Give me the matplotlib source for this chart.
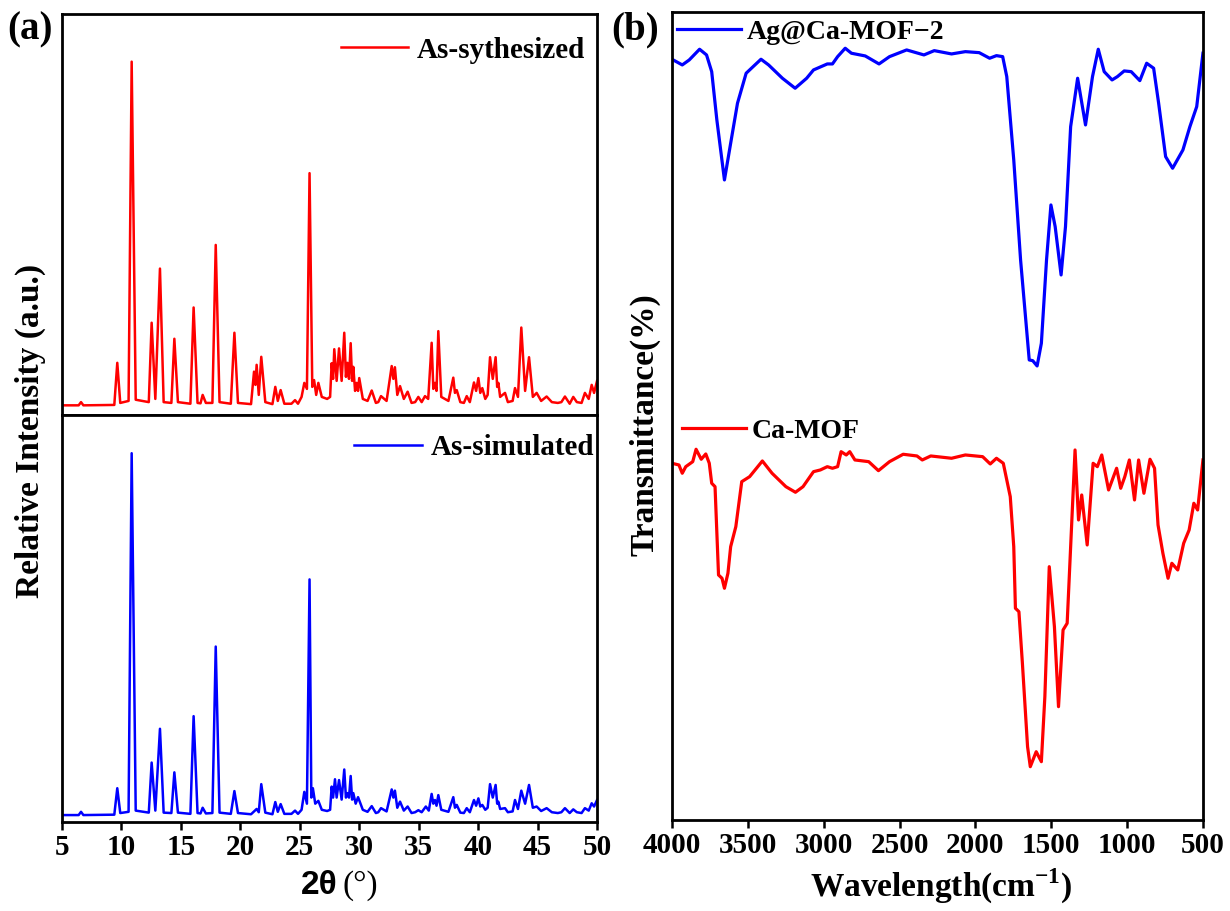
import matplotlib
matplotlib.use("Agg")
import matplotlib.pyplot as plt
from matplotlib.lines import Line2D
import numpy as np

plt.rcParams['font.family'] = ['Liberation Serif', 'DejaVu Serif']
plt.rcParams['font.weight'] = 'bold'
plt.rcParams['mathtext.fontset'] = 'custom'
plt.rcParams['mathtext.rm'] = 'Liberation Serif:bold'
plt.rcParams['mathtext.bf'] = 'Liberation Serif:bold'

# ---- (a) XRD, as-synthesized (peak tops and valleys) ----
syn_peak_pos = [6.6, 9.65, 10.86, 12.54, 13.24, 14.45, 16.07, 16.83, 17.93, 19.5,
                21.15, 21.37, 21.76, 22.94, 23.39, 24.6, 25.38, 25.82, 26.2, 26.56,
                27.68, 27.9, 28.3, 28.74, 29.0, 29.28, 29.5, 29.78, 30.0, 31.05,
                31.83, 32.73, 33.0, 33.43, 34.07, 34.97, 35.53, 36.09, 36.37, 36.65,
                37.91, 38.2, 39.04, 39.65, 40.02, 40.35, 41.0, 41.47, 41.7, 42.26,
                43.1, 43.63, 44.28, 44.92, 45.76, 47.3, 48.0, 48.98, 49.55]
syn_peak_int = [3.2, 13.0, 88.1, 23.0, 36.5, 19.0, 26.8, 5.0, 42.4, 20.5,
                10.8, 12.5, 14.5, 7.0, 6.2, 3.7, 8.0, 60.3, 8.7, 8.0,
                12.9, 16.4, 16.6, 20.5, 13.0, 17.9, 12.0, 8.0, 9.2, 6.1,
                4.7, 12.2, 11.9, 7.2, 5.8, 4.5, 4.7, 18.0, 8.0, 20.9,
                9.3, 6.2, 4.7, 8.1, 9.2, 6.7, 14.4, 14.4, 8.0, 5.5,
                6.7, 21.8, 14.4, 5.5, 4.6, 4.6, 4.5, 5.5, 7.5]
syn_valley_pos = [5.0, 6.4, 6.8, 9.4, 9.9, 10.6, 11.2, 12.3, 12.85, 13.55,
                  14.2, 14.75, 15.8, 16.4, 16.65, 17.1, 17.65, 18.25, 19.2, 19.8,
                  20.9, 21.27, 21.55, 22.1, 22.7, 23.15, 23.7, 24.3, 24.85, 25.15,
                  25.6, 26.05, 26.38, 26.85, 27.3, 27.55, 27.8, 28.1, 28.52, 28.88,
                  29.14, 29.4, 29.65, 29.9, 30.3, 30.7, 31.4, 31.6, 32.3, 32.87,
                  33.2, 33.75, 34.4, 34.7, 35.25, 35.8, 36.23, 36.5, 36.9, 37.5,
                  38.05, 38.5, 38.8, 39.3, 39.83, 40.18, 40.6, 40.8, 41.23, 41.6,
                  41.85, 42.5, 42.9, 43.35, 43.95, 44.6, 45.3, 46.2, 46.7, 47.0,
                  47.7, 48.3, 48.7, 49.3, 49.75, 50.0]
syn_valley_int = [2.4, 2.4, 2.4, 2.5, 3.0, 3.5, 3.8, 3.2, 4.0, 3.2,
                  3.0, 3.2, 2.8, 3.0, 2.9, 3.0, 3.0, 3.2, 2.8, 3.0,
                  2.7, 7.5, 5.0, 3.2, 2.7, 3.5, 2.8, 2.8, 2.8, 4.5,
                  6.5, 7.0, 5.0, 4.5, 4.0, 4.5, 9.0, 8.5, 8.5, 9.5,
                  9.0, 8.5, 6.0, 6.0, 4.0, 3.5, 3.0, 3.2, 3.5, 9.0,
                  5.0, 4.0, 3.0, 3.2, 3.2, 4.0, 6.5, 6.0, 4.5, 3.5,
                  5.5, 3.2, 3.0, 3.2, 6.0, 5.5, 4.0, 5.0, 9.0, 7.0,
                  4.5, 3.2, 3.5, 4.5, 6.0, 4.5, 3.5, 3.2, 3.0, 3.2,
                  2.8, 3.2, 3.0, 4.0, 5.5, 8.5]

# ---- (a) XRD, simulated ----
sim_peak_pos = [6.6, 9.65, 10.86, 12.54, 13.24, 14.45, 16.07, 16.83, 17.93, 19.5,
                21.37, 21.76, 22.94, 23.39, 24.6, 25.38, 25.82, 26.1, 26.56, 27.68,
                27.96, 28.3, 28.74, 29.0, 29.28, 29.5, 29.9, 31.05, 31.83, 32.73,
                33.0, 33.43, 34.07, 34.97, 35.6, 36.09, 36.37, 36.65, 37.91, 38.2,
                39.04, 39.65, 40.02, 40.35, 41.0, 41.47, 41.7, 42.26, 43.1, 43.63,
                44.28, 44.92, 45.76, 47.3, 48.0, 48.98, 49.55]
sim_peak_int = [2.5, 8.3, 90.6, 14.6, 22.9, 12.2, 26.0, 3.5, 43.1, 7.6,
                3.2, 9.3, 4.9, 4.4, 2.8, 7.4, 59.6, 8.3, 5.2, 8.7,
                10.5, 10.3, 12.9, 7.1, 11.3, 7.1, 6.1, 3.9, 3.4, 8.0,
                7.7, 5.0, 3.8, 2.9, 3.8, 6.9, 5.4, 6.6, 6.1, 4.2,
                3.4, 5.4, 5.8, 4.2, 9.3, 9.1, 5.0, 3.4, 5.4, 7.7,
                9.1, 3.8, 3.4, 3.4, 3.1, 3.4, 4.6]
sim_valley_pos = [5.0, 6.4, 6.8, 9.4, 9.9, 10.6, 11.2, 12.3, 12.85, 13.55,
                  14.2, 14.75, 15.8, 16.4, 16.65, 17.1, 17.65, 18.25, 19.2, 19.8,
                  20.9, 21.55, 22.1, 22.7, 23.15, 23.7, 24.3, 24.85, 25.15, 25.6,
                  25.97, 26.3, 26.85, 27.3, 27.55, 27.8, 28.1, 28.52, 28.88, 29.14,
                  29.4, 29.7, 30.3, 30.7, 31.4, 31.6, 32.3, 32.87, 33.2, 33.75,
                  34.4, 34.7, 35.25, 35.85, 36.23, 36.5, 36.9, 37.5, 38.05, 38.5,
                  38.8, 39.3, 39.83, 40.18, 40.6, 40.8, 41.23, 41.6, 41.85, 42.5,
                  42.9, 43.35, 43.95, 44.6, 45.3, 46.2, 46.7, 47.0, 47.7, 48.3,
                  48.7, 49.3, 49.75, 50.0]
sim_valley_int = [1.7, 1.7, 1.7, 1.8, 2.2, 2.5, 2.8, 2.3, 2.8, 2.3,
                  2.2, 2.3, 2.0, 2.2, 2.1, 2.1, 2.2, 2.3, 2.0, 2.2,
                  1.9, 2.4, 2.3, 1.9, 2.5, 2.0, 2.0, 2.0, 3.0, 4.5,
                  6.0, 4.5, 3.0, 2.7, 3.0, 6.0, 6.0, 5.5, 6.0, 6.0,
                  5.5, 4.5, 3.0, 2.5, 2.2, 2.4, 2.6, 6.0, 3.5, 2.8,
                  2.2, 2.4, 2.4, 2.8, 4.5, 4.0, 3.0, 2.5, 3.5, 2.3,
                  2.2, 2.4, 4.0, 3.8, 3.0, 3.5, 6.0, 4.5, 3.2, 2.4,
                  2.6, 3.2, 4.5, 3.5, 2.7, 2.4, 2.2, 2.4, 2.2, 2.4,
                  2.2, 2.8, 3.8, 5.4]

xrd_ticks = [5, 10, 15, 20, 25, 30, 35, 40, 45, 50]

# ---- (b) FTIR ----
ag_wn = [4000, 3932, 3886, 3818, 3772, 3738, 3704, 3654, 3613, 3568, 3511, 3465, 3413,
         3363, 3272, 3188, 3112, 3067, 2976, 2942, 2908, 2858, 2817, 2726, 2635, 2566,
         2453, 2339, 2271, 2157, 2066, 1975, 1906, 1861, 1820, 1793, 1747, 1702, 1645,
         1622, 1593, 1565, 1531, 1502, 1474, 1435, 1406, 1372, 1326, 1274, 1228, 1190,
         1151, 1099, 1064, 1019, 973, 916, 871, 825, 792, 746, 700, 632, 586, 541, 500]
ag_t = [760.7, 755, 760, 770.7, 765, 748.3, 700, 640, 676.7, 716.7, 746.7, 753.3, 760.7,
        755, 741.7, 731.7, 741.7, 750, 756, 756, 763.3, 771.7, 766.7, 764, 756, 763.3,
        770, 765, 769.3, 766, 768.3, 767.3, 761.7, 764.3, 763.3, 743.3, 660, 560, 460,
        459.3, 454, 476.7, 560, 615, 593.3, 545, 593.3, 693.3, 741.7, 695, 743.3, 770.7,
        748.3, 740, 743.3, 749, 748.3, 739.3, 756.7, 751.7, 716.7, 663.3, 651.7, 670,
        693.3, 713.3, 766.7]

ca_wn = [4000, 3954, 3932, 3909, 3863, 3841, 3807, 3777, 3754, 3738, 3716, 3693, 3670,
         3654, 3631, 3613, 3579, 3540, 3488, 3443, 3404, 3340, 3249, 3186, 3136, 3067,
         3022, 2976, 2942, 2908, 2885, 2851, 2828, 2794, 2703, 2639, 2566, 2476, 2385,
         2350, 2294, 2157, 2066, 1952, 1902, 1861, 1816, 1770, 1747, 1736, 1713, 1690,
         1656, 1638, 1599, 1565, 1542, 1513, 1479, 1452, 1422, 1395, 1372, 1343, 1320,
         1299, 1263, 1224, 1196, 1167, 1122, 1069, 1042, 1015, 985, 951, 924, 889, 849,
         819, 796, 764, 730, 705, 666, 627, 591, 560, 535, 500]
ca_t = [356.7, 355, 346.7, 353.3, 358.3, 370.7, 360.7, 366, 356.7, 336.7, 333.3, 245,
        241.7, 231.7, 246.7, 273.3, 293.3, 338.3, 343.3, 351.7, 359, 346.7, 333.3, 327.7,
        333.3, 348.3, 350, 353.3, 351.7, 353.3, 368.3, 365, 368.3, 360, 358.3, 349.3,
        358.3, 365.7, 364, 360, 364, 361.7, 365, 363.3, 356, 361.7, 356.7, 323.3, 273.3,
        211.7, 208.3, 156.7, 73.3, 53.3, 68.3, 58.3, 123.3, 253.3, 193.3, 113.3, 190,
        196.7, 273.3, 370, 300, 325, 275, 356.7, 353.3, 365, 330, 351.7, 331.7, 343.3,
        360, 320, 360, 326.7, 360.7, 351.7, 295, 266.7, 241.7, 256.7, 250, 276.7, 290,
        316.7, 310, 360]

ftir_ticks = [4000, 3500, 3000, 2500, 2000, 1500, 1000, 500]


def profile(px, py, vx, vy):
    x = np.concatenate([px, vx])
    y = np.concatenate([py, vy])
    order = np.argsort(x)
    return x[order], y[order]


def style_axes(ax):
    for s in ax.spines.values():
        s.set_linewidth(2.0)
    ax.tick_params(axis='y', left=False, labelleft=False)
    ax.tick_params(axis='x', direction='out', length=6, width=1.8,
                   labelsize=21, pad=3)


fig = plt.figure(figsize=(12.3, 9.11), dpi=100)
ax1 = fig.add_axes([0.0504, 0.5445, 0.435, 0.4402])
ax2 = fig.add_axes([0.0504, 0.0977, 0.435, 0.4468])
ax3 = fig.add_axes([0.5463, 0.0999, 0.4317, 0.887])

xrd_leg_font = {'family': 'Liberation Serif', 'weight': 'bold', 'size': 21}
ftir_leg_font = {'family': 'Liberation Serif', 'weight': 'bold', 'size': 20}

x, y = profile(syn_peak_pos, syn_peak_int, syn_valley_pos, syn_valley_int)
ax1.plot(x, y, color='#ff0000', lw=1.8, label='As-sythesized')
ax1.set_xlim(5, 50)
ax1.set_ylim(0, 100)
style_axes(ax1)
ax1.tick_params(axis='x', bottom=False, labelbottom=False)
ax1.legend(loc='center right', bbox_to_anchor=(0.978, 0.91), frameon=False,
           prop=xrd_leg_font, handlelength=2.3, handletextpad=0.3,
           borderpad=0, borderaxespad=0)

x, y = profile(sim_peak_pos, sim_peak_int, sim_valley_pos, sim_valley_int)
ax2.plot(x, y, color='#0000ff', lw=1.8, label='As-simulated')
ax2.set_xlim(5, 50)
ax2.set_ylim(0, 100)
ax2.set_xticks(xrd_ticks)
style_axes(ax2)
ax2.legend(loc='center right', bbox_to_anchor=(0.994, 0.919), frameon=False,
           prop=xrd_leg_font, handlelength=2.3, handletextpad=0.3,
           borderpad=0, borderaxespad=0)

ax3.plot(ag_wn, ag_t, color='#0000ff', lw=2.3)
ax3.plot(ca_wn, ca_t, color='#ff0000', lw=2.3)
ax3.set_xlim(4000, 500)
ax3.set_ylim(0, 808)
ax3.set_xticks(ftir_ticks)
style_axes(ax3)
leg_b1 = ax3.legend([Line2D([], [], color='#0000ff', lw=2.3)], ['Ag@Ca-MOF\u22122'],
                    loc='center left', bbox_to_anchor=(0.0094, 0.975), frameon=False,
                    prop=ftir_leg_font, handlelength=2.3, handletextpad=0.2,
                    borderpad=0, borderaxespad=0)
ax3.add_artist(leg_b1)
ax3.legend([Line2D([], [], color='#ff0000', lw=2.3)], ['Ca-MOF'],
           loc='center left', bbox_to_anchor=(0.0188, 0.481), frameon=False,
           prop=ftir_leg_font, handlelength=2.3, handletextpad=0.2,
           borderpad=0, borderaxespad=0)

W, H = 1230.0, 911.0
fig.text(7 / W, 1 - 30 / H, '(a)', fontsize=28, fontweight='bold', ha='left', va='center')
fig.text(611 / W, 1 - 30 / H, '(b)', fontsize=28, fontweight='bold', ha='left', va='center')
fig.text(30 / W, 1 - 431 / H, 'Relative Intensity (a.u.)', fontsize=24, fontweight='bold',
         rotation=90, ha='center', va='center')
fig.text(645 / W, 1 - 425 / H, 'Transmittance(%)', fontsize=24, fontweight='bold',
         rotation=90, ha='center', va='center')
fig.text(338 / W, 1 - 886 / H, '2\u03b8', fontsize=24, fontweight='bold',
         family=['Liberation Sans', 'DejaVu Sans'], ha='right', va='center')
fig.text(342 / W, 1 - 886 / H, '(\u00b0)', fontsize=24, fontweight='normal',
         family=['Liberation Serif', 'DejaVu Serif'], ha='left', va='center')
fig.text(941 / W, 1 - 886 / H, 'Wavelength(cm$^{\\mathbf{-1}}$)', fontsize=24,
         fontweight='bold', ha='center', va='center')

fig.savefig('out.png', dpi=100)
